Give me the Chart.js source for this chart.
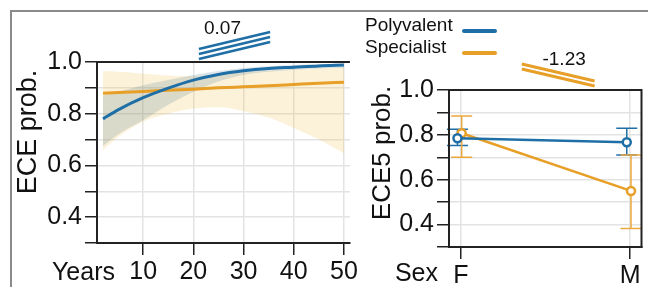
<!DOCTYPE html>
<html>
<head>
<meta charset="utf-8">
<script src="https://cdn.jsdelivr.net/npm/chart.js@4.4.0/dist/chart.umd.min.js"></script>
<style>
  body { margin: 0; background: #fff; }
  #wrap { position: relative; width: 648px; height: 287px; overflow: hidden; }
  #frame { position: absolute; left: 10px; top: 10px; width: 700px; height: 300px;
           border-left: 2px solid #8a8a8a; border-top: 2px solid #8a8a8a; }
  #left { position: absolute; left: 0; top: 0; }
  #right { position: absolute; left: 360px; top: 0; }
</style>
</head>
<body>
<div id="wrap">
  <div id="frame"></div>
  <canvas id="left" width="360" height="287"></canvas>
  <canvas id="right" width="288" height="287"></canvas>
</div>
<script>
// valeurs
const years = [2, 5, 10, 15, 20, 25, 30, 35, 40, 45, 50];
const polyProb = [0.78, 0.815, 0.862, 0.899, 0.930, 0.952, 0.966, 0.975, 0.980, 0.985, 0.988];
const polyLow  = [0.675, 0.72, 0.775, 0.835, 0.885, 0.925, 0.95, 0.962, 0.97, 0.975, 0.978];
const polyHigh = [0.87, 0.885, 0.91, 0.93, 0.95, 0.965, 0.977, 0.984, 0.988, 0.991, 0.993];
const specProb = [0.879, 0.882, 0.886, 0.891, 0.895, 0.90, 0.904, 0.908, 0.913, 0.918, 0.922];
const specLow  = [0.66, 0.71, 0.77, 0.80, 0.82, 0.825, 0.81, 0.785, 0.745, 0.70, 0.647];
const specHigh = [0.965, 0.962, 0.955, 0.948, 0.945, 0.952, 0.96, 0.966, 0.972, 0.976, 0.98];

const sexCats = ['F', 'M'];
const polySex = [0.785, 0.767];
const polySexLow = [0.752, 0.71];
const polySexHigh = [0.825, 0.829];
const specSex = [0.807, 0.55];
const specSexLow = [0.70, 0.383];
const specSexHigh = [0.884, 0.71];

const yGrid = [0.3, 0.4, 0.5, 0.6, 0.7, 0.8, 0.9, 1.0];
const yTickLabels = ['', '0.4', '', '0.6', '', '0.8', '', '1.0'];
const yearTicks = [10, 20, 30, 40, 50];

const FONT = "'Liberation Sans', Arial, sans-serif";
const BLUE = '#1f6fa6';
const ORANGE = '#e89f27';
const INK = '#111';

function xy(xs, ys) {
  return xs.map((x, i) => ({ x: x, y: ys[i] }));
}

function yScale(width) {
  return {
    min: 0.3, max: 1.0,
    afterBuildTicks: s => { s.ticks = yGrid.map(v => ({ value: v })); },
    afterFit: s => { s.width = width; },
    grid: { color: '#e3e3e3', lineWidth: 1.5, tickLength: 12, tickColor: '#222', tickWidth: 1.5 },
    border: { color: '#222', width: 2 },
    ticks: { autoSkip: false, color: INK, padding: 3, font: { family: FONT, size: 25 },
             callback: (v, i) => yTickLabels[i] }
  };
}

// textes, titres et petites marques de pente
const leftExtras = {
  id: 'leftExtras',
  afterDraw(chart) {
    const ctx = chart.ctx, a = chart.chartArea, x = chart.scales.x;
    ctx.save();
    ctx.strokeStyle = '#222';
    ctx.lineWidth = 2;
    ctx.beginPath();
    ctx.moveTo(a.left, a.top);
    ctx.lineTo(a.right, a.top);
    ctx.stroke();

    ctx.fillStyle = INK;
    ctx.font = '25px ' + FONT;
    ctx.textAlign = 'right';
    ctx.textBaseline = 'alphabetic';
    ctx.fillText('Years', 115, 280);

    ctx.save();
    ctx.translate(29, 132);
    ctx.rotate(-Math.PI / 2);
    ctx.font = '27px ' + FONT;
    ctx.textAlign = 'center';
    ctx.textBaseline = 'middle';
    ctx.fillText('ECE prob.', 0, 0);
    ctx.restore();

    ctx.font = '19px ' + FONT;
    ctx.textAlign = 'center';
    ctx.textBaseline = 'middle';
    ctx.fillText('0.07', x.getPixelForValue(25.8), 29);

    ctx.strokeStyle = BLUE;
    ctx.lineWidth = 2.5;
    const x0 = x.getPixelForValue(21.1), x1 = x.getPixelForValue(35.3);
    [0, 5, 10].forEach(d => {
      ctx.beginPath();
      ctx.moveTo(x0, a.top - 13 + d);
      ctx.lineTo(x1, a.top - 30 + d);
      ctx.stroke();
    });
    ctx.restore();
  }
};

new Chart(document.getElementById('left'), {
  type: 'line',
  data: {
    datasets: [
      { data: xy(years, polyProb), borderColor: BLUE, borderWidth: 3, order: 0 },
      { data: xy(years, specProb), borderColor: ORANGE, borderWidth: 3, order: 1 },
      { data: xy(years, polyLow), borderWidth: 0, order: 2 },
      { data: xy(years, polyHigh), borderWidth: 0, order: 3,
        fill: { target: 2 }, backgroundColor: 'rgba(60,110,140,0.18)' },
      { data: xy(years, specLow), borderWidth: 0, order: 4 },
      { data: xy(years, specHigh), borderWidth: 0, order: 5,
        fill: { target: 4 }, backgroundColor: 'rgba(240,190,80,0.22)' }
    ]
  },
  options: {
    responsive: false,
    animation: false,
    layout: { padding: { top: 62, right: 8, left: 0, bottom: 0 } },
    elements: { point: { radius: 0 }, line: { cubicInterpolationMode: 'monotone' } },
    plugins: { legend: { display: false }, tooltip: { enabled: false } },
    scales: {
      x: {
        type: 'linear', min: 0.8, max: 51.2,
        afterBuildTicks: s => { s.ticks = yearTicks.map(v => ({ value: v })); },
        afterFit: s => { s.height = 44; },
        grid: { color: '#e3e3e3', lineWidth: 1.5, tickLength: 12, tickColor: '#222', tickWidth: 1.5 },
        border: { color: '#222', width: 2 },
        ticks: { autoSkip: false, maxRotation: 0, color: INK, padding: 2, font: { family: FONT, size: 25 } }
      },
      y: yScale(97)
    }
  },
  plugins: [leftExtras]
});

// barres d'erreur derrière les points
const errorBars = {
  id: 'errorBars',
  beforeDatasetsDraw(chart) {
    const ctx = chart.ctx, y = chart.scales.y;
    ctx.save();
    chart.data.datasets.forEach((ds, di) => {
      const meta = chart.getDatasetMeta(di);
      ctx.strokeStyle = ds.errColor;
      ctx.lineWidth = 1.5;
      meta.data.forEach((pt, i) => {
        const top = y.getPixelForValue(ds.high[i]);
        const bot = y.getPixelForValue(ds.low[i]);
        ctx.beginPath();
        ctx.moveTo(pt.x, top); ctx.lineTo(pt.x, bot);
        ctx.moveTo(pt.x - 10.5, top); ctx.lineTo(pt.x + 10.5, top);
        ctx.moveTo(pt.x - 10.5, bot); ctx.lineTo(pt.x + 10.5, bot);
        ctx.stroke();
      });
    });
    ctx.restore();
  }
};

const rightExtras = {
  id: 'rightExtras',
  afterDraw(chart) {
    const ctx = chart.ctx, a = chart.chartArea, x = chart.scales.x;
    ctx.save();
    ctx.strokeStyle = '#222';
    ctx.lineWidth = 2;
    ctx.strokeRect(a.left, a.top, a.right - a.left, a.bottom - a.top);

    ctx.fillStyle = INK;
    ctx.font = '25px ' + FONT;
    ctx.textAlign = 'right';
    ctx.textBaseline = 'alphabetic';
    ctx.fillText('Sex', 78, 281);

    ctx.save();
    ctx.translate(23, 153);
    ctx.rotate(-Math.PI / 2);
    ctx.font = '26px ' + FONT;
    ctx.textAlign = 'center';
    ctx.textBaseline = 'middle';
    ctx.fillText('ECE5 prob.', 0, 0);
    ctx.restore();

    // légende
    ctx.font = '19px ' + FONT;
    ctx.textAlign = 'left';
    ctx.fillText('Polyvalent', 5, 31);
    ctx.fillText('Specialist', 5, 53);
    ctx.lineWidth = 4;
    ctx.lineCap = 'round';
    ctx.strokeStyle = BLUE;
    ctx.beginPath(); ctx.moveTo(104, 31); ctx.lineTo(135, 31); ctx.stroke();
    ctx.strokeStyle = ORANGE;
    ctx.beginPath(); ctx.moveTo(104, 53); ctx.lineTo(135, 53); ctx.stroke();

    ctx.lineCap = 'butt';
    ctx.textAlign = 'center';
    ctx.textBaseline = 'middle';
    ctx.fillText('-1.23', x.getPixelForValue(0.61), 60);

    ctx.lineWidth = 3;
    const x0 = x.getPixelForValue(0.36), x1 = x.getPixelForValue(0.79);
    [0, 5].forEach(d => {
      ctx.beginPath();
      ctx.moveTo(x0, a.top - 26 + d);
      ctx.lineTo(x1, a.top - 9 + d);
      ctx.stroke();
    });
    ctx.restore();
  }
};

const sexPos = sexCats.map((c, i) => i);
const dodgePoly = -0.02, dodgeSpec = 0.005;

new Chart(document.getElementById('right'), {
  type: 'line',
  data: {
    datasets: [
      { data: xy(sexPos.map(p => p + dodgePoly), polySex), low: polySexLow, high: polySexHigh,
        errColor: BLUE, borderColor: BLUE, borderWidth: 2.5,
        pointBorderColor: BLUE, pointBackgroundColor: '#fff' },
      { data: xy(sexPos.map(p => p + dodgeSpec), specSex), low: specSexLow, high: specSexHigh,
        errColor: '#eba83c', borderColor: ORANGE, borderWidth: 2.5,
        pointBorderColor: ORANGE, pointBackgroundColor: '#fff' }
    ]
  },
  options: {
    responsive: false,
    animation: false,
    layout: { padding: { top: 90, right: 6, left: 0, bottom: 0 } },
    elements: { point: { radius: 4, borderWidth: 2 } },
    plugins: { legend: { display: false }, tooltip: { enabled: false } },
    scales: {
      x: {
        type: 'linear', min: -0.07, max: 1.067,
        afterBuildTicks: s => { s.ticks = sexPos.map(v => ({ value: v })); },
        afterFit: s => { s.height = 40; },
        grid: { color: '#e3e3e3', lineWidth: 1.5, tickLength: 12, tickColor: '#222', tickWidth: 1.5 },
        border: { color: '#222', width: 2 },
        ticks: { autoSkip: false, maxRotation: 0, color: INK, padding: 2, font: { family: FONT, size: 25 },
                 callback: (v, i) => sexCats[i] }
      },
      y: yScale(89)
    }
  },
  plugins: [errorBars, rightExtras]
});
</script>
</body>
</html>
